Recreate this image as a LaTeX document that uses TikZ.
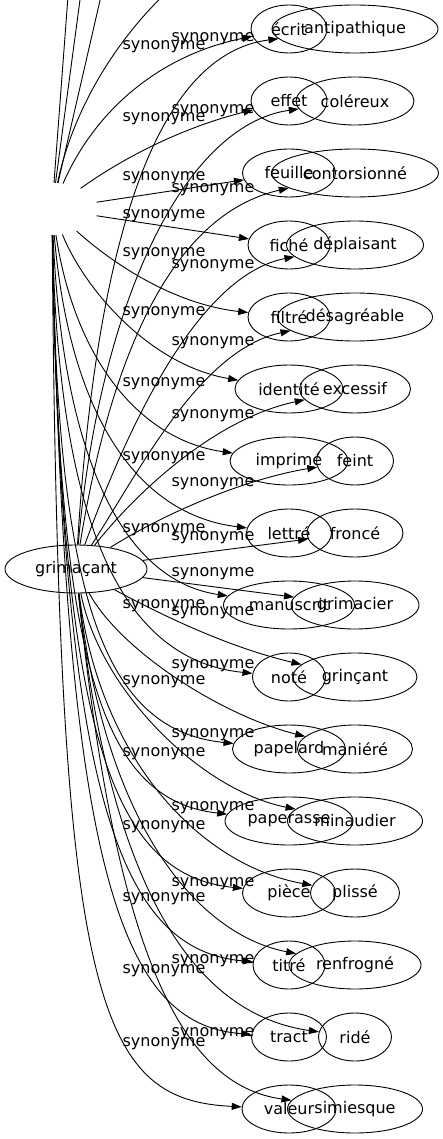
\documentclass[tikz,border=0pt]{standalone}
\usepackage{fontspec}
\setmainfont{DejaVu Sans}
\usetikzlibrary{arrows.meta,shapes.geometric}

\begin{document}
\begin{tikzpicture}[x=1pt,y=-1pt,
      word/.style={ellipse,draw,line width=0.9pt,inner sep=0pt,minimum height=48pt,
                   font=\fontsize{16}{19}\selectfont},
      lbl/.style={inner sep=0pt,font=\fontsize{16}{19}\selectfont},
      syn/.style={-{Triangle[length=10pt,width=7pt]},line width=0.9pt}]
    \useasboundingbox (0,0) rectangle (442,1139);
    \clip (0,0) rectangle (442,1139);
    % the two word columns
    \foreach \n/\t/\w [count=\i from 0] in {ecrit/écrit/76,effet/effet/76,feuille/feuille/93,
        fiche/fiché/82,filtre/filtré/82,identite/identité/108,imprime/imprimé/118,
        lettre/lettré/85,manuscrit/manuscrit/131,note/noté/73,papelard/papelard/113,
        paperasse/paperasse/128,piece/pièce/93,titre/titré/72,tract/tract/75,valeur/valeur/94}
      \node[word,minimum width=\w pt] (\n) at (289,{29+72*\i}) {\t};
    \foreach \n/\t/\w [count=\i from 0] in {antip/antipathique/166,colereux/coléreux/118,
        contors/contorsionné/167,deplais/déplaisant/137,desagr/désagréable/155,
        excessif/excessif/111,feint/feint/77,fronce/froncé/96,grimacier/grimacier/128,
        grincant/grinçant/124,maniere/maniéré/115,minaud/minaudier/135,plisse/plissé/89,
        renfro/renfrogné/132,ride/ridé/73,simiesque/simiesque/135}
      \node[word,minimum width=\w pt] (\n) at (355,{29+72*\i}) {\t};
    \node[word,minimum width=142pt] (grim) at (76,569) {grimaçant};
    \node[ellipse,inner sep=0pt,minimum width=92pt,minimum height=52pt] (hub) at (52,209) {};
    \coordinate (up1) at (70,-30);
    \coordinate (up2) at (84,-30);
    \coordinate (up3) at (107,-30);
    \coordinate (up4) at (178,-18);
    % edges leaving the top
    \draw[syn] (hub) -- (up1);
    \draw[syn] (hub) -- (up2);
    \draw[syn] (hub) -- (up3);
    \draw[syn] (hub) .. controls (75,100) and (125,30) .. (up4);
    % left column
    \draw[syn] (hub) .. controls (95,110) and (160,55) .. (ecrit);
    \draw[syn] (hub) .. controls (120,160) and (180,128) .. (effet);
    \draw[syn] (hub) -- (feuille);
    \draw[syn] (hub) -- (fiche);
    \draw[syn] (hub) .. controls (120,270) and (180,305) .. (filtre);
    \draw[syn] (hub) .. controls (85,290) and (150,365) .. (identite);
    \draw[syn] (hub) .. controls (75,360) and (140,440) .. (imprime);
    \draw[syn] (hub) .. controls (70,420) and (140,515) .. (lettre);
    \draw[syn] (hub) .. controls (62,450) and (120,580) .. (manuscrit);
    \draw[syn] (hub) .. controls (58,520) and (120,660) .. (note);
    \draw[syn] (hub) .. controls (57,590) and (100,730) .. (papelard);
    \draw[syn] (hub) .. controls (58,660) and (100,800) .. (paperasse);
    \draw[syn] (hub) .. controls (60,730) and (110,875) .. (piece);
    \draw[syn] (hub) .. controls (62,800) and (120,950) .. (titre);
    \draw[syn] (hub) .. controls (64,870) and (120,1025) .. (tract);
    \draw[syn] (hub) .. controls (58,1000) and (95,1100) .. (valeur);
    % right column
    \draw[syn] (grim) .. controls (95,260) and (150,55) .. (antip);
    \draw[syn] (grim) .. controls (100,300) and (185,125) .. (colereux);
    \draw[syn] (grim) .. controls (110,360) and (170,215) .. (contors);
    \draw[syn] (grim) .. controls (130,420) and (200,275) .. (deplais);
    \draw[syn] (grim) .. controls (140,470) and (200,350) .. (desagr);
    \draw[syn] (grim) .. controls (130,500) and (210,420) .. (excessif);
    \draw[syn] (grim) .. controls (170,510) and (250,478) .. (feint);
    \draw[syn] (grim) -- (fronce);
    \draw[syn] (grim) -- (grimacier);
    \draw[syn] (grim) .. controls (180,625) and (240,650) .. (grincant);
    \draw[syn] (grim) .. controls (120,650) and (220,715) .. (maniere);
    \draw[syn] (grim) .. controls (100,690) and (200,790) .. (minaud);
    \draw[syn] (grim) .. controls (100,760) and (200,865) .. (plisse);
    \draw[syn] (grim) .. controls (105,830) and (200,935) .. (renfro);
    \draw[syn] (grim) .. controls (110,900) and (200,1015) .. (ride);
    \draw[syn] (grim) .. controls (115,950) and (180,1085) .. (simiesque);
    % labels
    \foreach \y [count=\i] in {46,118,177,215,253,312,383,457,529,605,681,753,826,898,970,1043}
      \node[lbl] (la\i) at (164,\y+1) {synonyme};
    \foreach \y [count=\i] in {38,110,189,265,342,415,483,537,573,612,665,734,807,883,960,1033}
      \node[lbl] (lb\i) at (213,\y+1) {synonyme};
  \end{tikzpicture}
\end{document}
